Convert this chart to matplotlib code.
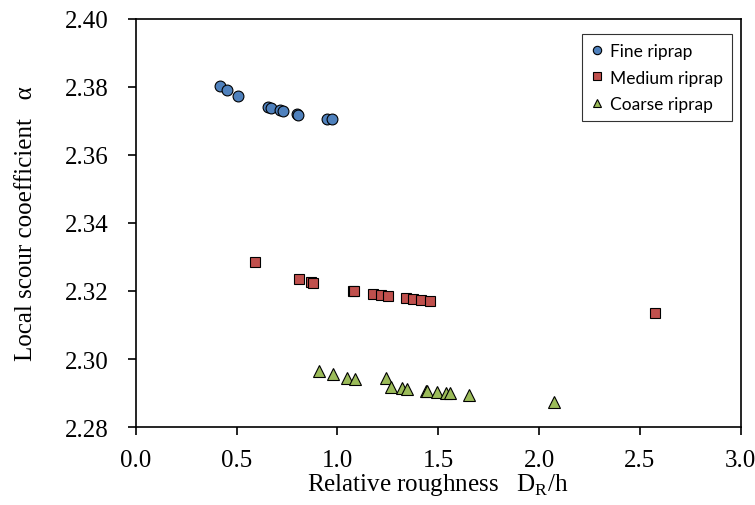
import matplotlib
matplotlib.use('Agg')
import matplotlib.pyplot as plt

# Fine riprap
fine_x = [0.417, 0.452, 0.507, 0.656, 0.671, 0.715, 0.730, 0.800, 0.805, 0.949, 0.974]
fine_y = [2.3803, 2.3790, 2.3774, 2.3741, 2.3738, 2.3732, 2.3729, 2.3721, 2.3718, 2.3706, 2.3705]

# Medium riprap
med_x = [0.591, 0.808, 0.868, 0.878, 1.075, 1.080, 1.174, 1.214, 1.252, 1.340, 1.375, 1.416, 1.457, 2.573]
med_y = [2.3286, 2.3236, 2.3226, 2.3224, 2.3201, 2.3200, 2.3191, 2.3188, 2.3185, 2.3179, 2.3176, 2.3174, 2.3171, 2.3134]

# Coarse riprap
coarse_x = [0.906, 0.979, 1.048, 1.085, 1.243, 1.267, 1.321, 1.345, 1.437, 1.444, 1.494, 1.537, 1.558, 1.653, 2.072]
coarse_y = [2.2966, 2.2956, 2.2944, 2.2940, 2.2944, 2.2918, 2.2915, 2.2913, 2.2907, 2.2905, 2.2903, 2.2901, 2.2899, 2.2893, 2.2874]

xticks = [0.0, 0.5, 1.0, 1.5, 2.0, 2.5, 3.0]
yticks = [2.28, 2.30, 2.32, 2.34, 2.36, 2.38, 2.40]

plt.rcParams['font.family'] = ['Liberation Serif', 'DejaVu Serif']

fig = plt.figure(figsize=(7.55, 5.06), dpi=100)
ax = fig.add_axes([0.180, 0.154, 0.801, 0.807])

ax.plot(fine_x, fine_y, linestyle='none', marker='o', markersize=7.8,
        markerfacecolor='#4F81BD', markeredgecolor='black', markeredgewidth=0.8,
        label='Fine riprap')
ax.plot(med_x, med_y, linestyle='none', marker='s', markersize=7.2,
        markerfacecolor='#C0504D', markeredgecolor='black', markeredgewidth=0.8,
        label='Medium riprap')
ax.plot(coarse_x, coarse_y, linestyle='none', marker='^', markersize=8.2,
        markerfacecolor='#9BBB59', markeredgecolor='black', markeredgewidth=0.8,
        label='Coarse riprap')

ax.set_xlim(0, 3.0)
ax.set_ylim(2.28, 2.40)
ax.set_xticks(xticks)
ax.set_yticks(yticks)
ax.set_xticklabels([f'{v:.1f}' for v in xticks])
ax.set_yticklabels([f'{v:.2f}' for v in yticks])
ax.tick_params(direction='out', length=5.5, width=1.2, labelsize=18)
ax.tick_params(axis='x', pad=10)
ax.tick_params(axis='y', pad=14)

for s in ax.spines.values():
    s.set_linewidth(1.2)

ax.set_xlabel('Relative roughness   D$_\\mathregular{R}$/h', fontsize=18, labelpad=0)
ax.set_ylabel('Local scour cooefficient   α', fontsize=18, labelpad=20)

leg = ax.legend(loc='upper right', bbox_to_anchor=(0.985, 0.9615), frameon=True,
                fancybox=False, edgecolor='black', handlelength=0.7,
                handletextpad=0.4, borderpad=0.5, labelspacing=0.6,
                borderaxespad=0, prop={'family': 'Lato', 'size': 12.5})
leg.get_frame().set_linewidth(0.8)
for h in leg.legend_handles:
    h.set_markersize(6)

fig.savefig('out.png', dpi=100)
